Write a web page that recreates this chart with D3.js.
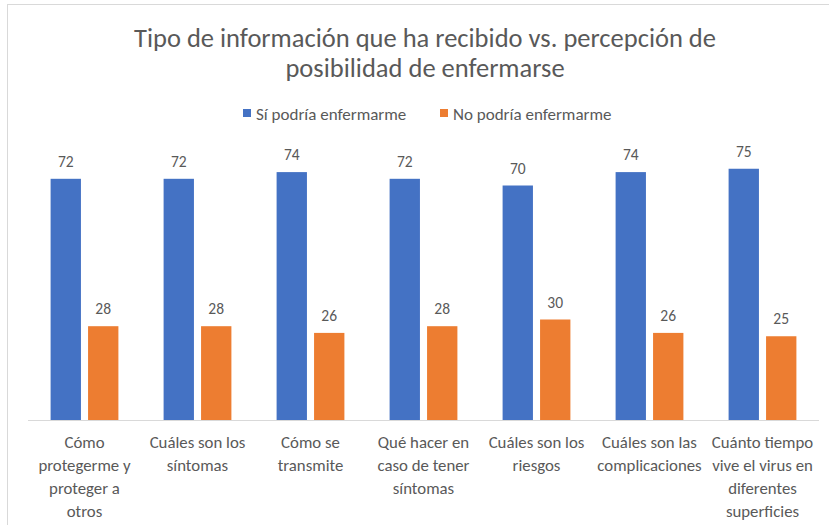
<!DOCTYPE html>
<html>
<head>
  <meta charset="UTF-8">
  <script src="https://d3js.org/d3.v7.min.js"></script>
  <style>
    body { margin: 0; background: #fff; }
    text { font-family: Calibri, Carlito, Lato, sans-serif; fill: #595959; }
  </style>
</head>
<body>
<script>
// categories (full text) and the way they wrap under the axis
const categories = [
  "Cómo protegerme y proteger a otros",
  "Cuáles son los síntomas",
  "Cómo se transmite",
  "Qué hacer en caso de tener síntomas",
  "Cuáles son los riesgos",
  "Cuáles son las complicaciones",
  "Cuánto tiempo vive el virus en diferentes superficies"
];
const tickLines = [
  ["Cómo", "protegerme y", "proteger a", "otros"],
  ["Cuáles son los", "síntomas"],
  ["Cómo se", "transmite"],
  ["Qué hacer en", "caso de tener", "síntomas"],
  ["Cuáles son los", "riesgos"],
  ["Cuáles son las", "complicaciones"],
  ["Cuánto tiempo", "vive el virus en", "diferentes", "superficies"]
];
const seriesNames = ["Sí podría enfermarme", "No podría enfermarme"];
const siValues = [72, 72, 74, 72, 70, 74, 75];
const noValues = [28, 28, 26, 28, 30, 26, 25];
const colors = ["#4472C4", "#ED7D31"];

const W = 829, H = 525;
const svg = d3.select("body").append("svg")
  .attr("width", W).attr("height", H);

// chart frame
svg.append("rect")
  .attr("x", 7.5).attr("y", 4.5)
  .attr("width", 840).attr("height", 540)
  .attr("fill", "#fff").attr("stroke", "#d9d9d9");

// title
const title = svg.append("text")
  .attr("text-anchor", "middle")
  .style("font-size", "26.5px")
  .style("font-weight", 300);
title.append("tspan").attr("x", 425).attr("y", 47)
  .text("Tipo de información que ha recibido vs. percepción de");
title.append("tspan").attr("x", 425).attr("y", 77)
  .text("posibilidad de enfermarse");

// legend
const legendX = [243, 440];
seriesNames.forEach(function(name, i) {
  svg.append("rect")
    .attr("x", legendX[i]).attr("y", 109)
    .attr("width", 8).attr("height", 8)
    .attr("fill", colors[i]);
  svg.append("text")
    .attr("x", legendX[i] + 13).attr("y", 120)
    .style("font-size", "17px")
    .text(name);
});

// scales
const x0 = d3.scaleBand()
  .domain(categories)
  .range([28, 819])
  .padding(0);
const x1 = d3.scaleBand()
  .domain(seriesNames)
  .range([x0.bandwidth() * 0.2, x0.bandwidth() * 0.8])
  .paddingInner(0.19);
const y = d3.scaleLinear()
  .domain([0, 80])
  .range([420, 152]);

const data = categories.map(function(c, i) {
  return { cat: c, vals: [siValues[i], noValues[i]], lines: tickLines[i] };
});

const groups = svg.selectAll("g.grp")
  .data(data)
  .enter().append("g")
  .attr("class", "grp")
  .attr("transform", function(d) { return "translate(" + x0(d.cat) + ",0)"; });

groups.selectAll("rect")
  .data(function(d) { return d.vals.map(function(v, i) { return { s: seriesNames[i], v: v, i: i }; }); })
  .enter().append("rect")
  .attr("x", function(d) { return x1(d.s); })
  .attr("y", function(d) { return y(d.v); })
  .attr("width", x1.bandwidth())
  .attr("height", function(d) { return y(0) - y(d.v); })
  .attr("fill", function(d) { return colors[d.i]; });

groups.selectAll("text.val")
  .data(function(d) { return d.vals.map(function(v, i) { return { s: seriesNames[i], v: v }; }); })
  .enter().append("text")
  .attr("class", "val")
  .attr("x", function(d) { return x1(d.s) + x1.bandwidth() / 2; })
  .attr("y", function(d) { return y(d.v) - 12; })
  .attr("text-anchor", "middle")
  .style("font-size", "15.5px")
  .text(function(d) { return d.v; });

// baseline
svg.append("line")
  .attr("x1", 28).attr("x2", 819)
  .attr("y1", y(0) + 0.5).attr("y2", y(0) + 0.5)
  .attr("stroke", "#d9d9d9");

// category labels
groups.each(function(d) {
  const t = d3.select(this).append("text")
    .attr("text-anchor", "middle")
    .style("font-size", "16.8px");
  d.lines.forEach(function(line, k) {
    t.append("tspan")
      .attr("x", x0.bandwidth() / 2)
      .attr("y", 448 + k * 23)
      .text(line);
  });
});
</script>
</body>
</html>
